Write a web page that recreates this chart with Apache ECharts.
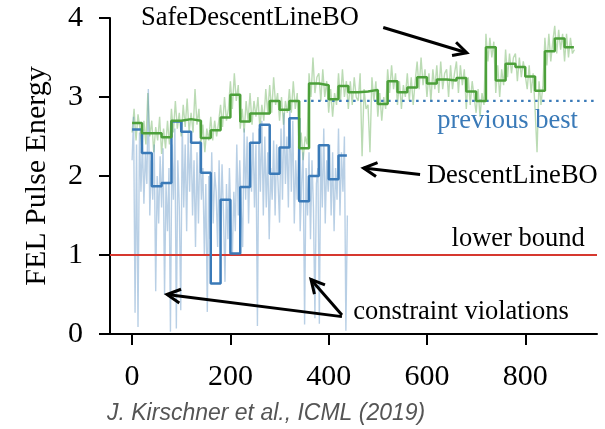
<!DOCTYPE html>
<html>
<head>
<meta charset="utf-8">
<script src="https://cdn.jsdelivr.net/npm/echarts@6.0.0/dist/echarts.min.js"></script>
<style>
html, body { margin: 0; padding: 0; background: #fff; }
#container { width: 605px; height: 429px; }
</style>
</head>
<body>
<div id="container"></div>
<script>
// axis ticks
var xTicks = [0, 200, 400, 600, 800];
var xRange = [-45, 946];
var yRange = [0, 4];

// SafeDescentLineBO, step line (value held until next x)
var safeStepX = [0, 20, 40, 60, 80, 100, 120, 140, 160, 180,
                 200, 220, 240, 260, 280, 300, 320, 340, 360, 380,
                 400, 420, 440, 460, 480, 500, 520, 540, 560, 580,
                 600, 620, 640, 660, 680, 700, 720, 740, 760, 780,
                 800, 820, 840, 860, 880, 899];
var safeStepY = [2.67, 2.54, 2.54, 2.49, 2.70, 2.72, 2.70, 2.48, 2.58, 2.74,
                 3.03, 2.69, 2.79, 2.79, 2.95, 2.84, 2.95, 2.35, 3.17, 3.15,
                 2.97, 3.14, 3.06, 3.07, 3.09, 2.91, 3.20, 3.06, 3.12, 3.25,
                 3.17, 3.22, 3.21, 3.24, 3.07, 2.95, 3.63, 3.21, 3.42, 3.38,
                 3.26, 3.08, 3.58, 3.74, 3.63, 3.63];

// DescentLineBO, step line
var descStepX = [0, 20, 40, 60, 80, 100, 120, 140, 160, 180,
                 200, 220, 240, 260, 280, 300, 320, 340, 360, 380,
                 400, 420, 437];
var descStepY = [2.59, 2.29, 1.87, 1.91, 2.69, 2.56, 2.42, 2.04, 0.64, 1.70,
                 1.02, 1.86, 2.42, 2.65, 2.03, 2.36, 2.73, 1.68, 2.00, 2.39,
                 1.96, 2.26, 2.26];

// raw evaluations, one value every safeRawStep iterations
var safeRawStep = 4;
var safeRaw = [
  2.55, 2.85, 2.45, 2.78, 2.60,   2.35, 2.70, 2.40, 3.05, 2.50,
  2.70, 2.30, 2.62, 2.45, 2.75,   2.28, 2.60, 2.35, 2.70, 2.40,
  2.85, 2.55, 2.95, 2.60, 2.80,   2.50, 2.90, 2.62, 2.98, 2.55,
  2.80, 2.55, 3.10, 2.65, 2.85,   2.40, 2.65, 2.30, 2.60, 2.45,
  2.75, 2.45, 2.70, 2.50, 2.68,   2.90, 2.62, 3.00, 2.70, 2.85,
  3.20, 2.85, 3.30, 2.95, 3.15,   2.60, 2.85, 2.55, 2.95, 2.70,
  3.05, 2.65, 2.95, 2.75, 3.00,   2.60, 2.90, 2.70, 3.10, 2.80,
  3.15, 2.80, 3.25, 2.90, 3.05,   2.70, 3.00, 2.65, 2.95, 2.80,
  3.10, 2.80, 3.20, 2.85, 3.05,   2.30, 2.55, 2.20, 2.50, 2.40,
  3.30, 3.00, 3.50, 3.05, 3.25,   3.30, 2.95, 3.35, 3.00, 3.20,
  2.80, 3.10, 2.75, 3.05, 2.90,   3.30, 2.95, 3.35, 3.00, 3.20,
  2.85, 3.20, 2.90, 3.25, 3.00,   2.95, 3.30, 2.25, 3.10, 2.85,
  2.90, 2.30, 3.25, 2.95, 3.20,   2.75, 3.05, 2.70, 3.00, 2.85,
  3.35, 3.05, 3.40, 3.10, 3.30,   2.90, 3.20, 2.85, 3.15, 3.00,
  3.30, 2.95, 3.25, 2.90, 3.20,   3.45, 3.10, 3.50, 3.15, 3.35,
  3.00, 3.30, 2.95, 3.35, 3.10,   3.40, 3.05, 3.45, 3.10, 3.30,
  3.35, 3.00, 3.40, 3.10, 3.30,   3.45, 3.05, 3.40, 3.15, 3.35,
  2.85, 3.25, 2.90, 3.20, 3.00,   2.80, 3.10, 2.75, 3.05, 2.90,
  3.80, 3.45, 3.75, 3.50, 3.70,   3.05, 3.40, 3.00, 3.35, 3.15,
  3.60, 3.25, 3.55, 3.30, 3.50,   3.55, 3.20, 3.50, 3.25, 3.45,
  3.45, 3.10, 3.40, 3.05, 3.30,   2.85, 2.30, 3.20, 2.90, 3.15,
  3.75, 3.40, 3.80, 3.45, 3.70,   3.90, 3.55, 3.85, 3.60, 3.80,
  3.45, 3.80, 3.50, 3.75, 3.55,   3.60
];
// raw evaluations, one value every descRawStep iterations
var descRawStep = 3;
var descRaw = [
  2.20, 2.75, 0.27, 2.40, 0.09, 2.55, 1.80, 2.45, 1.65, 2.30,
  1.90, 3.10, 1.50, 2.20, 1.70, 2.40, 0.54, 2.00, 1.40, 2.25,
  1.60, 2.35, 0.50, 1.90, 1.30, 2.10, 0.03, 2.40, 1.70, 2.60,
  0.07, 2.20, 1.60, 0.30, 2.70, 1.60, 2.40, 1.30, 2.55, 1.80,
  2.50, 1.50, 2.20, 1.10, 2.30, 1.40, 2.45, 1.70, 2.10, 1.00,
  1.90, 0.28, 2.00, 1.20, 2.30, 1.40, 2.05, 1.80, 1.10, 2.20,
  1.30, 2.15, 1.50, 0.66, 1.90, 1.20, 2.10, 1.45, 1.00, 1.80,
  1.30, 2.40, 1.50, 2.20, 1.60, 1.10, 2.60, 1.70, 2.50, 1.40,
  2.30, 1.80, 2.55, 1.60, 2.40, 0.10, 2.60, 1.80, 2.70, 1.50,
  2.50, 1.60, 2.30, 1.20, 2.10, 1.70, 2.45, 1.50, 2.40, 1.90,
  1.41, 2.60, 1.70, 2.80, 1.90, 2.50, 1.60, 2.90, 1.80, 2.70,
  1.40, 2.20, 1.70, 2.40, 1.30, 1.90, 2.30, 0.12, 2.10, 1.50,
  2.30, 1.20, 2.20, 1.60, 0.20, 1.90, 2.10, 0.13, 2.40, 1.60,
  2.60, 1.40, 2.20, 1.80, 2.40, 1.50, 2.30, 1.30, 2.10, 1.70,
  2.60, 1.50, 2.30, 1.80, 2.50, 0.04, 1.50
];

var lowerBound = 1;
var previousBest = 2.95;
var previousBestFrom = 350;

// text labels, anchored at their left-middle point (data units)
var labels = [
  { text: 'SafeDescentLineBO', at: [18, 4.0], color: '#000' },
  { text: 'DescentLineBO', at: [600, 2.0], color: '#000' },
  { text: 'previous best', at: [621, 2.70], color: '#3a7ab8' },
  { text: 'lower bound', at: [650, 1.20], color: '#000' },
  { text: 'constraint violations', at: [450, 0.28], color: '#000' }
];
// arrows, tail -> head (data units)
var arrows = [
  { from: [511, 3.88], to: [681, 3.56] },
  { from: [586, 2.02], to: [471, 2.10] },
  { from: [427, 0.22], to: [71, 0.50] },
  { from: [427, 0.24], to: [364, 0.69] }
];

function pairs(xs, ys) {
  return xs.map(function (x, i) { return [x, ys[i]]; });
}
function rawPairs(vals, step) {
  return vals.map(function (v, i) { return [i * step, v]; });
}

var serif = '"Liberation Serif", "Times New Roman", serif';

var dom = document.getElementById('container');
var myChart = echarts.init(dom, null, { renderer: 'canvas' });

var option = {
  animation: false,
  backgroundColor: '#fff',
  title: {
    text: 'J. Kirschner et al., ICML (2019)',
    left: 107,
    top: 402,
    padding: 0,
    textStyle: {
      fontFamily: '"Liberation Sans", Arial, sans-serif',
      fontStyle: 'italic',
      fontWeight: 'normal',
      fontSize: 23,
      color: '#555'
    }
  },
  grid: {
    left: 110, right: 8, top: 18, bottom: 95,
    containLabel: false,
    outerBoundsMode: 'none'
  },
  xAxis: {
    type: 'value',
    min: xRange[0],
    max: xRange[1],
    axisLine: { show: true, onZero: false, lineStyle: { color: '#000', width: 2 } },
    axisTick: { show: true, customValues: xTicks, length: 11, lineStyle: { color: '#000', width: 2 } },
    axisLabel: { customValues: xTicks, margin: 28, color: '#000', fontFamily: serif, fontSize: 30 },
    splitLine: { show: false }
  },
  yAxis: {
    type: 'value',
    min: yRange[0],
    max: yRange[1],
    interval: 1,
    name: 'FEL Pulse Energy',
    nameLocation: 'middle',
    nameGap: 58,
    nameTextStyle: { color: '#000', fontFamily: serif, fontSize: 30 },
    axisLine: { show: true, onZero: false, lineStyle: { color: '#000', width: 2 } },
    axisTick: { show: true, length: 11, lineStyle: { color: '#000', width: 2 } },
    axisLabel: { margin: 27, color: '#000', fontFamily: serif, fontSize: 30 },
    splitLine: { show: false }
  },
  series: [
    {
      name: 'SafeDescentLineBO raw',
      type: 'line',
      data: rawPairs(safeRaw, safeRawStep),
      showSymbol: false, symbol: 'none',
      lineStyle: { color: 'rgba(76,160,58,0.38)', width: 1.4 },
      z: 1
    },
    {
      name: 'DescentLineBO raw',
      type: 'line',
      data: rawPairs(descRaw, descRawStep),
      showSymbol: false, symbol: 'none',
      lineStyle: { color: 'rgba(58,122,184,0.36)', width: 1.4 },
      z: 2
    },
    {
      name: 'lower bound',
      type: 'line',
      data: [[xRange[0], lowerBound], [xRange[1], lowerBound]],
      showSymbol: false, symbol: 'none',
      lineStyle: { color: '#d6382f', width: 2 },
      z: 3
    },
    {
      name: 'previous best',
      type: 'line',
      data: [[previousBestFrom, previousBest], [xRange[1] - 4, previousBest]],
      showSymbol: false, symbol: 'none',
      lineStyle: { color: '#3a7ab8', width: 2.2, type: [2.5, 4.5] },
      z: 4
    },
    {
      name: 'DescentLineBO',
      type: 'line',
      step: 'end',
      data: pairs(descStepX, descStepY),
      showSymbol: false, symbol: 'none',
      lineStyle: { color: '#3a7ab8', width: 2.5 },
      z: 5
    },
    {
      name: 'SafeDescentLineBO',
      type: 'line',
      step: 'end',
      data: pairs(safeStepX, safeStepY),
      showSymbol: false, symbol: 'none',
      lineStyle: { color: '#4ca03a', width: 2.5 },
      z: 6
    }
  ]
};
myChart.setOption(option);

// annotations placed through the chart's own scales
var graphics = [];
labels.forEach(function (l) {
  var p = myChart.convertToPixel({ gridIndex: 0 }, l.at);
  graphics.push({
    type: 'text',
    x: p[0], y: p[1],
    z: 100,
    style: {
      text: l.text,
      fill: l.color,
      font: '26.5px ' + serif,
      align: 'left',
      verticalAlign: 'middle'
    }
  });
});
arrows.forEach(function (a) {
  var p0 = myChart.convertToPixel({ gridIndex: 0 }, a.from);
  var p1 = myChart.convertToPixel({ gridIndex: 0 }, a.to);
  var ang = Math.atan2(p1[1] - p0[1], p1[0] - p0[0]);
  var hl = 15, spread = Math.PI / 6.5;
  var h1 = [p1[0] - hl * Math.cos(ang - spread), p1[1] - hl * Math.sin(ang - spread)];
  var h2 = [p1[0] - hl * Math.cos(ang + spread), p1[1] - hl * Math.sin(ang + spread)];
  graphics.push({
    type: 'polyline', z: 100,
    shape: { points: [p0, p1] },
    style: { stroke: '#000', lineWidth: 3, fill: null }
  });
  graphics.push({
    type: 'polyline', z: 100,
    shape: { points: [h1, p1, h2] },
    style: { stroke: '#000', lineWidth: 3, fill: null, lineJoin: 'miter' }
  });
});
myChart.setOption({ graphic: graphics });
</script>
</body>
</html>
